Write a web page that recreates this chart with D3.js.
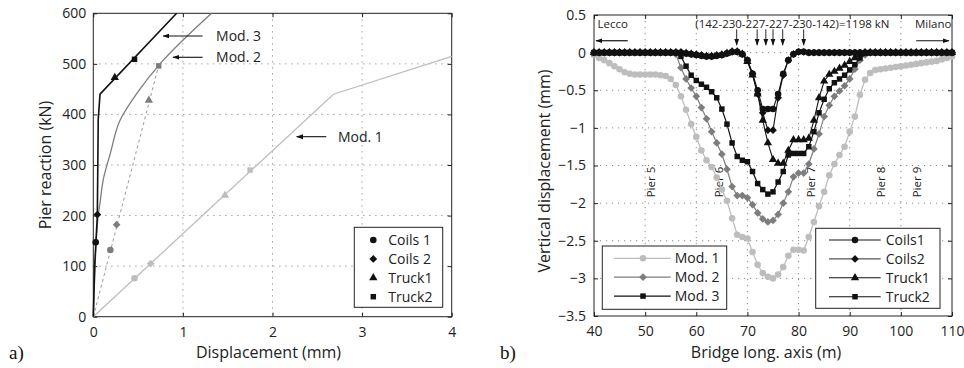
<!DOCTYPE html>
<html>
<head>
<meta charset="utf-8">
<script src="https://cdn.jsdelivr.net/npm/d3@7"></script>
<style>
body { margin: 0; background: #fff; }
svg { display: block; font-family: "Open Sans", sans-serif; }
.grid line { stroke: #8a8a8a; stroke-width: 1; stroke-dasharray: 1.2, 4.8; }
.frame { fill: none; stroke: #222; stroke-width: 1; }
.tick line { stroke: #222; }
.tick text { fill: #222; }
</style>
</head>
<body>
<svg id="fig" width="964" height="368"></svg>
<script>
// ---------- panel a) : pier reaction vs displacement
const aXTicks = [0, 1, 2, 3, 4];
const aYTicks = [0, 100, 200, 300, 400, 500, 600];
const aMod1 = [[0, 0], [2.68, 440], [4, 515]];
const aMod2 = [[0, 0], [0.02, 100], [0.04, 170], [0.055, 200], [0.075, 225], [0.11, 270], [0.19, 323], [0.3, 389], [0.5, 445], [0.73, 497], [1.32, 600]];
const aMod3 = [[0, 0], [0.015, 100], [0.03, 150], [0.045, 200], [0.055, 390], [0.075, 440], [0.93, 600]];
const aMod2Dashed = [[0, 0], [0.73, 497]];
const aTestsMod1 = [[0.46, 76], [0.64, 105], [1.47, 240], [1.75, 290]];
const aTestsMod2 = [[0.19, 132], [0.26, 182], [0.62, 428], [0.73, 496]];
const aTestsMod3 = [[0.027, 147], [0.045, 202], [0.24, 473], [0.46, 509]];
const aTestNames = ["Coils 1", "Coils 2", "Truck1", "Truck2"];
const testSymbols = ["circle", "diamond", "triangle", "square"];
// arrow annotations: tip (x,y), tail x, text x
const aNotes = [
    {text: "Mod. 3", x: 0.78, y: 555, tail: 1.22, tx: 1.37},
    {text: "Mod. 2", x: 0.89, y: 513, tail: 1.22, tx: 1.37},
    {text: "Mod. 1", x: 2.27, y: 356, tail: 2.6, tx: 2.73}
];

// ---------- panel b) : vertical displacement along the bridge
const bXTicks = [40, 50, 60, 70, 80, 90, 100, 110];
const bYTicks = [0.5, 0, -0.5, -1, -1.5, -2, -2.5, -3, -3.5];
const stations = d3.range(40, 111);
const bMod1 = [-0.03, -0.07, -0.1, -0.14, -0.18, -0.22, -0.26, -0.28, -0.29, -0.29,
    -0.29, -0.29, -0.29, -0.3, -0.31, -0.35, -0.43, -0.58, -0.76, -0.95,
    -1.12, -1.3, -1.43, -1.52, -1.66, -1.82, -1.97, -2.2, -2.42, -2.45,
    -2.47, -2.65, -2.82, -2.93, -2.98, -3.0, -2.95, -2.85, -2.7, -2.62,
    -2.62, -2.63, -2.45, -2.25, -2.04, -1.85, -1.63, -1.48, -1.36, -1.25,
    -1.05, -0.85, -0.56, -0.36, -0.27, -0.23, -0.22, -0.21, -0.2, -0.19,
    -0.18, -0.17, -0.16, -0.15, -0.14, -0.13, -0.12, -0.11, -0.09, -0.07, -0.05];
const bMod2 = [0, 0, 0, 0, 0, 0, 0, 0, 0, 0,
    0, 0, 0, 0, 0, 0, -0.02, -0.2, -0.35, -0.47,
    -0.58, -0.73, -0.88, -1.05, -1.2, -1.35, -1.55, -1.78, -1.9, -1.9,
    -1.93, -2.02, -2.13, -2.21, -2.25, -2.23, -2.15, -2.0, -1.85, -1.65,
    -1.6, -1.6, -1.48, -1.28, -1.08, -0.85, -0.7, -0.58, -0.51, -0.44,
    -0.35, -0.22, -0.1, -0.03, 0, 0, 0, 0, 0, 0,
    0, 0, 0, 0, 0, 0, 0, 0, 0, 0, 0];
const bMod3 = [0, 0, 0, 0, 0, 0, 0, 0, 0, 0,
    0, 0, 0, 0, 0, 0, 0, -0.05, -0.18, -0.3,
    -0.37, -0.42, -0.46, -0.52, -0.6, -0.75, -0.95, -1.2, -1.38, -1.43,
    -1.45, -1.58, -1.74, -1.82, -1.88, -1.85, -1.72, -1.58, -1.36, -1.34,
    -1.34, -1.34, -1.25, -1.05, -0.8, -0.62, -0.48, -0.4, -0.35, -0.3,
    -0.23, -0.16, -0.07, -0.01, 0, 0, 0, 0, 0, 0,
    0, 0, 0, 0, 0, 0, 0, 0, 0, 0, 0];
const bCoils1 = [0, 0, 0, 0, 0, 0, 0, 0, 0, 0,
    0, 0, 0, 0, 0, 0, 0, 0, -0.01, -0.02,
    -0.03, -0.04, -0.05, -0.05, -0.04, -0.03, -0.01, 0.01, 0.01, -0.02,
    -0.1, -0.28, -0.5, -0.75, -0.75, -0.75, -0.55, -0.28, -0.1, -0.02,
    0.01, 0.01, 0, 0, 0, 0, 0, 0, 0, 0,
    0, 0, 0, 0, 0, 0, 0, 0, 0, 0,
    0, 0, 0, 0, 0, 0, 0, 0, 0, 0, 0];
const bCoils2 = [0, 0, 0, 0, 0, 0, 0, 0, 0, 0,
    0, 0, 0, 0, 0, 0, 0, 0, -0.01, -0.02,
    -0.03, -0.04, -0.05, -0.05, -0.04, -0.03, -0.01, 0.01, 0.01, -0.02,
    -0.1, -0.28, -0.55, -0.8, -1.03, -1.03, -0.6, -0.3, -0.1, -0.02,
    0.01, 0.01, 0, 0, 0, 0, 0, 0, 0, 0,
    0, 0, 0, 0, 0, 0, 0, 0, 0, 0,
    0, 0, 0, 0, 0, 0, 0, 0, 0, 0, 0];
const bTruck1 = [0, 0, 0, 0, 0, 0, 0, 0, 0, 0,
    0, 0, 0, 0, 0, 0, 0, 0, -0.01, -0.02,
    -0.03, -0.04, -0.05, -0.05, -0.04, -0.03, -0.01, 0.01, 0.01, -0.02,
    -0.12, -0.3, -0.55, -0.9, -1.2, -1.42, -1.47, -1.47, -1.3, -1.16,
    -1.16, -1.16, -1.14, -0.9, -0.6, -0.38, -0.29, -0.25, -0.21, -0.17,
    -0.12, -0.07, -0.02, 0, 0, 0, 0, 0, 0, 0,
    0, 0, 0, 0, 0, 0, 0, 0, 0, 0, 0];
const bModNames = ["Mod. 1", "Mod. 2", "Mod. 3"];
const bTestNames = ["Coils1", "Coils2", "Truck1", "Truck2"];
const piers = [{name: "Pier 5", x: 51.1}, {name: "Pier 6", x: 64.4}, {name: "Pier 7", x: 82.4}, {name: "Pier 8", x: 96.1}, {name: "Pier 9", x: 103.1}];
const axles = [67.9, 71.9, 73.6, 75.0, 76.9, 81.0];
const loadText = "(142-230-227-227-230-142)=1198 kN";

const grey1 = "#bdbdbd", grey2 = "#7d7d7d", black = "#111";
const symbolTypes = {circle: d3.symbolCircle, diamond: d3.symbolDiamond2, triangle: d3.symbolTriangle, square: d3.symbolSquare};
const symbolSizes = {circle: 34, diamond: 38, triangle: 30, square: 30};

const svg = d3.select("#fig");
const defs = svg.append("defs");
defs.append("marker")
    .attr("id", "head")
    .attr("viewBox", "0 0 10 10")
    .attr("refX", 9).attr("refY", 5)
    .attr("markerWidth", 7).attr("markerHeight", 7)
    .attr("markerUnits", "userSpaceOnUse")
    .attr("orient", "auto")
  .append("path")
    .attr("d", "M0,1.5L10,5L0,8.5Z")
    .attr("fill", "#111");

function sym(type) {
    return d3.symbol().type(symbolTypes[type]).size(symbolSizes[type])();
}

function drawFrame(g, x, y, xTicks, yTicks, w, h, pad) {
    let inner = (ticks, sc) => ticks.filter(d => d != sc.domain()[0] && d != sc.domain()[1]);
    let grid = g.append("g").attr("class", "grid");
    grid.selectAll("line.v")
      .data(inner(xTicks, x))
      .join("line").attr("class", "v")
        .attr("x1", d => x(d)).attr("x2", d => x(d))
        .attr("y1", 0).attr("y2", h);
    grid.selectAll("line.h")
      .data(inner(yTicks, y))
      .join("line").attr("class", "h")
        .attr("x1", 0).attr("x2", w)
        .attr("y1", d => y(d)).attr("y2", d => y(d));

    let fmt = d3.format("~g");
    let style = a => a.attr("font-family", "'Open Sans', sans-serif").attr("font-size", 14)
        .call(s => s.select(".domain").remove());
    g.append("g").attr("transform", "translate(0," + h + ")")
      .call(d3.axisBottom(x).tickValues(xTicks).tickSize(-4).tickPadding(pad.x).tickFormat(fmt))
      .call(style);
    g.append("g")
      .call(d3.axisTop(x).tickValues(xTicks).tickSize(-4).tickFormat(""))
      .call(style);
    g.append("g")
      .call(d3.axisLeft(y).tickValues(yTicks).tickSize(-4).tickPadding(pad.y).tickFormat(fmt))
      .call(style);
    g.append("g").attr("transform", "translate(" + w + ",0)")
      .call(d3.axisRight(y).tickValues(yTicks).tickSize(-4).tickFormat(""))
      .call(style);
    g.append("rect").attr("class", "frame").attr("width", w).attr("height", h);
}

// ================= panel a
const pa = {left: 93.3, top: 13.3, width: 358.4, height: 303.4};
const xA = d3.scaleLinear().domain([0, 4]).range([0, pa.width]);
const yA = d3.scaleLinear().domain([0, 600]).range([pa.height, 0]);
const gA = svg.append("g").attr("transform", "translate(" + pa.left + "," + pa.top + ")");
drawFrame(gA, xA, yA, aXTicks, aYTicks, pa.width, pa.height, {x: 10, y: 7});

const lineA = d3.line().x(d => xA(d[0])).y(d => yA(d[1]));
gA.append("path").datum(aMod1).attr("d", lineA).attr("fill", "none").attr("stroke", grey1).attr("stroke-width", 1.3);
gA.append("path").datum(aMod2Dashed).attr("d", lineA).attr("fill", "none").attr("stroke", "#999").attr("stroke-width", 1).attr("stroke-dasharray", "3,3");
gA.append("path").datum(aMod2).attr("d", lineA.curve(d3.curveMonotoneY)).attr("fill", "none").attr("stroke", grey2).attr("stroke-width", 1.3);
lineA.curve(d3.curveLinear);
gA.append("path").datum(aMod3).attr("d", lineA).attr("fill", "none").attr("stroke", black).attr("stroke-width", 1.6);

[[aTestsMod1, grey1], [aTestsMod2, grey2], [aTestsMod3, black]].forEach(([pts, col]) => {
    gA.append("g").selectAll("path")
      .data(pts)
      .join("path")
        .attr("d", (d, i) => sym(testSymbols[i]))
        .attr("transform", d => "translate(" + xA(d[0]) + "," + yA(d[1]) + ")")
        .attr("fill", col);
});

aNotes.forEach(n => {
    gA.append("line")
        .attr("x1", xA(n.tail)).attr("x2", xA(n.x))
        .attr("y1", yA(n.y)).attr("y2", yA(n.y))
        .attr("stroke", "#111").attr("stroke-width", 1.1)
        .attr("marker-end", "url(#head)");
    gA.append("text")
        .attr("x", xA(n.tx)).attr("y", yA(n.y))
        .attr("dy", "0.35em")
        .attr("font-size", 14).attr("fill", "#222")
        .text(n.text);
});

// legend a
const legA = gA.append("g").attr("transform", "translate(261,214)");
legA.append("rect").attr("width", 88.4).attr("height", 80).attr("fill", "#fff").attr("stroke", "#222");
aTestNames.forEach((name, i) => {
    let row = legA.append("g").attr("transform", "translate(0," + (12.7 + i * 18.9) + ")");
    row.append("path").attr("d", sym(testSymbols[i])).attr("transform", "translate(19,0)").attr("fill", black);
    row.append("text").attr("x", 34).attr("dy", "0.35em").attr("font-size", 14).attr("fill", "#222").text(name);
});

svg.append("text").attr("transform", "translate(45," + (pa.top + pa.height / 2) + ") rotate(-90)")
    .attr("text-anchor", "middle").attr("dy", "0.35em").attr("font-size", 16).attr("fill", "#222")
    .text("Pier reaction (kN)");
svg.append("text").attr("x", pa.left + pa.width / 2 - 4).attr("y", 358)
    .attr("text-anchor", "middle").attr("font-size", 16).attr("fill", "#222")
    .text("Displacement (mm)");
svg.append("text").attr("x", 9).attr("y", 359)
    .attr("font-family", "'Liberation Serif', serif").attr("font-size", 19).attr("fill", "#111")
    .text("a)");

// ================= panel b
const pb = {left: 594, top: 15, width: 358, height: 301};
const xB = d3.scaleLinear().domain([40, 110]).range([0, pb.width]);
const yB = d3.scaleLinear().domain([-3.5, 0.5]).range([pb.height, 0]);
const gB = svg.append("g").attr("transform", "translate(" + pb.left + "," + pb.top + ")");
drawFrame(gB, xB, yB, bXTicks, bYTicks, pb.width, pb.height, {x: 10, y: 8});

piers.forEach(p => {
    gB.append("text")
        .attr("transform", "translate(" + xB(p.x) + "," + yB(-1.72) + ") rotate(-90)")
        .attr("text-anchor", "middle").attr("dy", "0.35em")
        .attr("font-size", 11.5).attr("fill", "#222")
        .text(p.name);
});

const lineB = d3.line().x(d => xB(d[0])).y(d => yB(d[1]));
const bSeries = [
    {values: bMod1, color: grey1, symbol: "circle", lw: 1.3},
    {values: bMod2, color: grey2, symbol: "diamond", lw: 1.2},
    {values: bMod3, color: black, symbol: "square", lw: 1.2},
    {values: bTruck1, color: black, symbol: "triangle", lw: 1.1},
    {values: bCoils2, color: black, symbol: "diamond", lw: 1.1},
    {values: bCoils1, color: black, symbol: "circle", lw: 1.1}
];
bSeries.forEach(s => {
    let pts = stations.map((x, i) => [x, s.values[i]]);
    gB.append("path").datum(pts).attr("d", lineB)
        .attr("fill", "none").attr("stroke", s.color).attr("stroke-width", s.lw);
    gB.append("g").selectAll("path")
      .data(pts)
      .join("path")
        .attr("d", sym(s.symbol))
        .attr("transform", d => "translate(" + xB(d[0]) + "," + yB(d[1]) + ")")
        .attr("fill", s.color);
});

// load arrows and place names
axles.forEach(a => {
    gB.append("line")
        .attr("x1", xB(a)).attr("x2", xB(a))
        .attr("y1", yB(0.31)).attr("y2", yB(0.1))
        .attr("stroke", "#111").attr("stroke-width", 0.9)
        .attr("marker-end", "url(#head)");
});
gB.append("text").attr("x", xB(78.8)).attr("y", yB(0.33))
    .attr("text-anchor", "middle").attr("font-size", 11.5).attr("fill", "#222").text(loadText);
gB.append("text").attr("x", xB(40.7)).attr("y", yB(0.33))
    .attr("font-size", 11.5).attr("fill", "#222").text("Lecco");
gB.append("text").attr("x", xB(109.9)).attr("y", yB(0.33))
    .attr("text-anchor", "end").attr("font-size", 11.5).attr("fill", "#222").text("Milano");
gB.append("line").attr("x1", xB(46.6)).attr("x2", xB(40.4)).attr("y1", yB(0.158)).attr("y2", yB(0.158))
    .attr("stroke", "#111").attr("stroke-width", 1.2).attr("marker-end", "url(#head)");
gB.append("line").attr("x1", xB(103)).attr("x2", xB(109.4)).attr("y1", yB(0.158)).attr("y2", yB(0.158))
    .attr("stroke", "#111").attr("stroke-width", 1.2).attr("marker-end", "url(#head)");

// legends b
const legB1 = gB.append("g").attr("transform", "translate(8.3,231)");
legB1.append("rect").attr("width", 124.4).attr("height", 63.3).attr("fill", "#fff").attr("stroke", "#222");
const modStyles = [[grey1, "circle"], [grey2, "diamond"], [black, "square"]];
bModNames.forEach((name, i) => {
    let row = legB1.append("g").attr("transform", "translate(0," + (12.3 + i * 18.9) + ")");
    row.append("line").attr("x1", 11.7).attr("x2", 68.4).attr("stroke", modStyles[i][0]).attr("stroke-width", 1.2);
    row.append("path").attr("d", sym(modStyles[i][1])).attr("transform", "translate(40.7,0)").attr("fill", modStyles[i][0]);
    row.append("text").attr("x", 72.4).attr("dy", "0.35em").attr("font-size", 14).attr("fill", "#222").text(name);
});
const legB2 = gB.append("g").attr("transform", "translate(221.7,213.3)");
legB2.append("rect").attr("width", 124.3).attr("height", 80).attr("fill", "#fff").attr("stroke", "#222");
const testLineCols = [black, "#555", black, black];
bTestNames.forEach((name, i) => {
    let row = legB2.append("g").attr("transform", "translate(0," + (11.7 + i * 18.9) + ")");
    row.append("line").attr("x1", 13.3).attr("x2", 65).attr("stroke", testLineCols[i]).attr("stroke-width", 1.1);
    row.append("path").attr("d", sym(testSymbols[i])).attr("transform", "translate(39.3,0)").attr("fill", black);
    row.append("text").attr("x", 70).attr("dy", "0.35em").attr("font-size", 14).attr("fill", "#222").text(name);
});

svg.append("text").attr("transform", "translate(544," + (pb.top + 156) + ") rotate(-90)")
    .attr("text-anchor", "middle").attr("dy", "0.35em").attr("font-size", 16).attr("fill", "#222")
    .text("Vertical displacement (mm)");
svg.append("text").attr("x", 766).attr("y", 358)
    .attr("text-anchor", "middle").attr("font-size", 16).attr("fill", "#222")
    .text("Bridge long. axis (m)");
svg.append("text").attr("x", 500).attr("y", 359)
    .attr("font-family", "'Liberation Serif', serif").attr("font-size", 19).attr("fill", "#111")
    .text("b)");
</script>
</body>
</html>
